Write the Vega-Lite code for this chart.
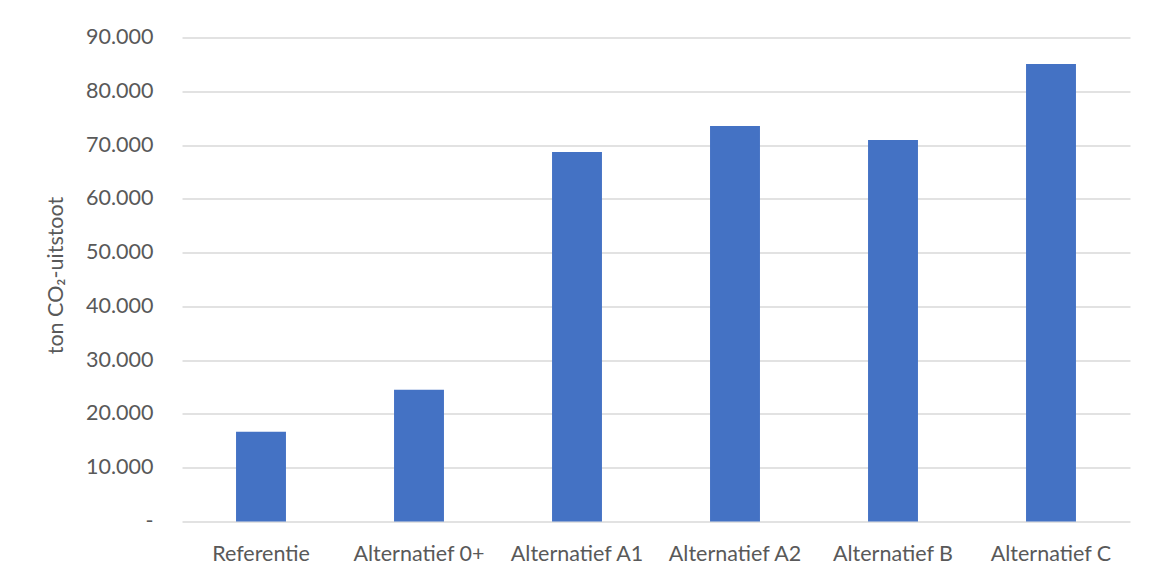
{
  "$schema": "https://vega.github.io/schema/vega-lite/v6.json",
  "autosize": {"type": "none"},
  "width": 948,
  "height": 484,
  "padding": {"left": 182, "top": 37.5, "right": 24, "bottom": 55},
  "background": "white",
  "config": {
    "view": {"stroke": null},
    "font": "Lato"
  },
  "data": {
    "values": [
      {"scenario": "Referentie", "uitstoot": 16670},
      {"scenario": "Alternatief 0+", "uitstoot": 24480},
      {"scenario": "Alternatief A1", "uitstoot": 68720},
      {"scenario": "Alternatief A2", "uitstoot": 73550},
      {"scenario": "Alternatief B", "uitstoot": 70950},
      {"scenario": "Alternatief C", "uitstoot": 85080}
    ]
  },
  "mark": {"type": "bar", "color": "#4472C4"},
  "encoding": {
    "x": {
      "field": "scenario",
      "type": "nominal",
      "sort": null,
      "scale": {"paddingInner": 0.684, "paddingOuter": 0.342},
      "axis": {
        "title": null,
        "labelAngle": 0,
        "labelFont": "Lato",
        "labelFontSize": 21.5,
        "labelColor": "#595959",
        "labelBaseline": "alphabetic",
        "labelPadding": 39,
        "ticks": false,
        "tickSize": 0,
        "domain": false,
        "grid": false
      }
    },
    "y": {
      "field": "uitstoot",
      "type": "quantitative",
      "scale": {"domain": [0, 90000], "nice": false},
      "axis": {
        "title": "ton CO₂-uitstoot",
        "titleFont": "Lato",
        "titleFontSize": 21.5,
        "titleFontWeight": "normal",
        "titleColor": "#595959",
        "titleAngle": -90,
        "titleAlign": "center",
        "titleBaseline": "alphabetic",
        "titleX": -120,
        "titleY": 237.5,
        "values": [0, 10000, 20000, 30000, 40000, 50000, 60000, 70000, 80000, 90000],
        "labelExpr": "datum.value == 0 ? '-' : replace(format(datum.value, ',.0f'), ',', '.')",
        "labelFont": "Lato",
        "labelFontSize": 21.5,
        "labelColor": "#595959",
        "labelPadding": 29,
        "ticks": false,
        "tickSize": 0,
        "domain": false,
        "grid": true,
        "gridColor": "#d9d9d9",
        "gridWidth": 1.4
      }
    }
  }
}
